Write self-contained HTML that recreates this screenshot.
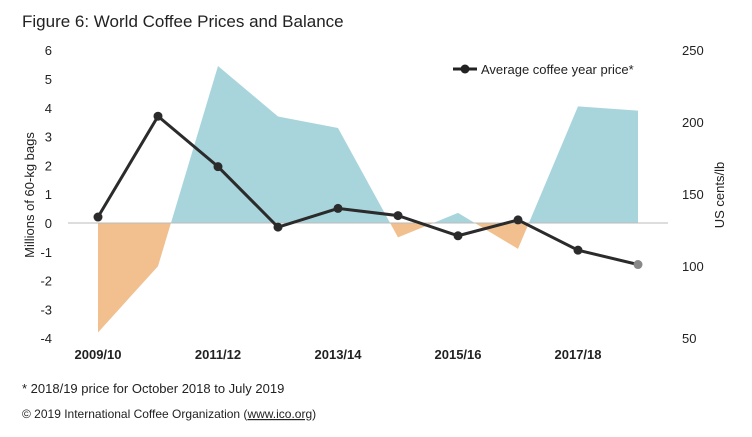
<!DOCTYPE html>
<html><head><meta charset="utf-8"><style>
body{margin:0;background:#fff;font-family:"Liberation Sans",sans-serif}
svg text{font-family:"Liberation Sans",sans-serif;fill:#222}
</style></head><body>
<svg id="c" width="752" height="432">
<text x="22" y="27" font-size="17">Figure 6: World Coffee Prices and Balance</text>
<defs>
<clipPath id="pos"><rect x="0" y="0" width="752" height="223"/></clipPath>
<clipPath id="neg"><rect x="0" y="223" width="752" height="209"/></clipPath>
</defs>
<g id="plot"></g>
<text transform="translate(34,195) rotate(-90)" text-anchor="middle" font-size="13">Millions of 60-kg bags</text>
<text transform="translate(724,195) rotate(-90)" text-anchor="middle" font-size="13">US cents/lb</text>
<line x1="453" y1="69" x2="477" y2="69" stroke="#222" stroke-width="3"/>
<circle cx="465" cy="69" r="4.5" fill="#222"/>
<text x="481" y="74" font-size="13">Average coffee year price*</text>
<text x="22" y="393" font-size="13">* 2018/19 price for October 2018 to July 2019</text>
<text x="22" y="418" font-size="12">© 2019 International Coffee Organization (<tspan text-decoration="underline">www.ico.org</tspan>)</text>
</svg>
<script>
const categories=["2009/10","2010/11","2011/12","2012/13","2013/14","2014/15","2015/16","2016/17","2017/18","2018/19"];
const balance=[-3.8,-1.5,5.45,3.7,3.3,-0.5,0.35,-0.9,4.05,3.9];
const price=[134,204,169,127,140,135,121,132,111,101];
const leftTicks=[-4,-3,-2,-1,0,1,2,3,4,5,6];
const rightTicks=[50,100,150,200,250];
const xLabels=["2009/10","2011/12","2013/14","2015/16","2017/18"];
const NS="http://www.w3.org/2000/svg";
const g=document.getElementById('plot');
const x=i=>98+i*60;
const yL=v=>223-v*28.8;
const yR=v=>338-(v-50)*1.44;
function el(t,a){const e=document.createElementNS(NS,t);for(const k in a)e.setAttribute(k,a[k]);g.appendChild(e);return e;}
let d="M"+x(0)+","+yL(0);
balance.forEach((v,i)=>d+=" L"+x(i)+","+yL(v));
d+=" L"+x(balance.length-1)+","+yL(0)+" Z";
const ap=el('path',{d:d,fill:"#a8d5dc","clip-path":"url(#pos)"});


const an=el('path',{d:d,fill:"#f2c08f","clip-path":"url(#neg)"});


const zl=el('line',{x1:68,x2:668,y1:yL(0),y2:yL(0),stroke:"#bbb","stroke-width":1});


leftTicks.forEach(v=>{const t=el('text',{x:52,y:yL(v)+5,"text-anchor":"end","font-size":13});t.textContent=v;

});
rightTicks.forEach(v=>{const t=el('text',{x:682,y:yR(v)+5,"font-size":13});t.textContent=v;

});
xLabels.forEach(l=>{const i=categories.indexOf(l);const t=el('text',{x:x(i),y:359,"text-anchor":"middle","font-size":13,"font-weight":"bold"});t.textContent=l;

});
const pl=el('polyline',{points:price.map((v,i)=>x(i)+","+yR(v)).join(" "),fill:"none",stroke:"#2b2b2b","stroke-width":3});


price.forEach((v,i)=>{const c=el('circle',{cx:x(i),cy:yR(v),r:4.5,fill:i==price.length-1?"#888":"#2b2b2b"});

});
</script>
</body></html>
